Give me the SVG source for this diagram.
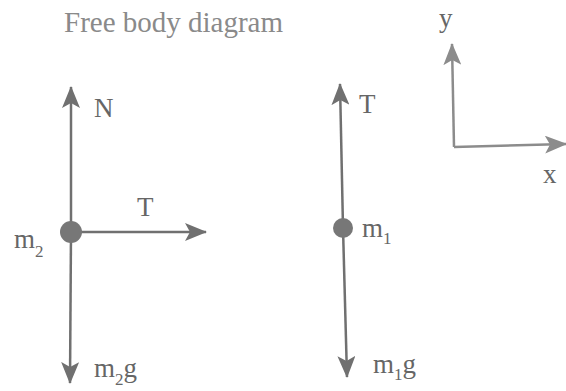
<svg xmlns="http://www.w3.org/2000/svg" width="566" height="391" viewBox="0 0 566 391">
<style>
.lbl{font-family:"Liberation Serif","Times New Roman",serif;font-size:27px;fill:#666}
.sub{font-size:17px}
.title{font-family:"Liberation Serif","Times New Roman",serif;font-size:29px;fill:#8a8a8a}
.vec{stroke:#707070;stroke-width:2.5;fill:none;marker-end:url(#ah)}
.ax{stroke:#8c8c8c;stroke-width:2.5;fill:none;marker-end:url(#ah2)}
.mass{fill:#777}
</style>
<defs>
<marker id="ah" markerUnits="userSpaceOnUse" viewBox="0 0 22 18" refX="21" refY="9" markerWidth="22" markerHeight="18" orient="auto">
<path d="M0,0 L22,9 L0,18 L5,9 z" fill="#707070"/>
</marker>
<marker id="ah2" markerUnits="userSpaceOnUse" viewBox="0 0 22 18" refX="21" refY="9" markerWidth="22" markerHeight="18" orient="auto">
<path d="M0,0 L22,9 L0,18 L5,9 z" fill="#8c8c8c"/>
</marker>
</defs>
<rect width="566" height="391" fill="#ffffff"/>
<text class="title" x="64" y="32">Free body diagram</text>
<g id="connectors">
<line class="vec" x1="71" y1="232" x2="71" y2="87"/>
<line class="vec" x1="71" y1="232" x2="70" y2="383"/>
<line class="vec" x1="72" y1="232" x2="206" y2="232"/>
<line class="vec" x1="343" y1="228" x2="340" y2="84"/>
<line class="vec" x1="343" y1="228" x2="347" y2="377"/>
<line class="ax" x1="454" y1="147" x2="452" y2="44"/>
<line class="ax" x1="454" y1="147" x2="566" y2="144"/>
</g>
<g id="m2">
<circle class="mass" cx="71" cy="232" r="11"/>
<text class="lbl" x="14" y="248">m<tspan class="sub" dy="9">2</tspan></text>
</g>
<g id="m1">
<circle class="mass" cx="343" cy="228" r="10"/>
<text class="lbl" x="362" y="237">m<tspan class="sub" dy="7">1</tspan></text>
</g>
<g id="labels">
<text class="lbl" x="94" y="117">N</text>
<text class="lbl" x="137" y="216">T</text>
<text class="lbl" x="94" y="377">m<tspan class="sub" dy="8">2</tspan><tspan dy="-8">g</tspan></text>
<text class="lbl" x="359" y="113">T</text>
<text class="lbl" x="373" y="373">m<tspan class="sub" dy="7">1</tspan><tspan dy="-7">g</tspan></text>
<text class="lbl" x="439" y="27">y</text>
<text class="lbl" x="543" y="183">x</text>
</g>
</svg>
